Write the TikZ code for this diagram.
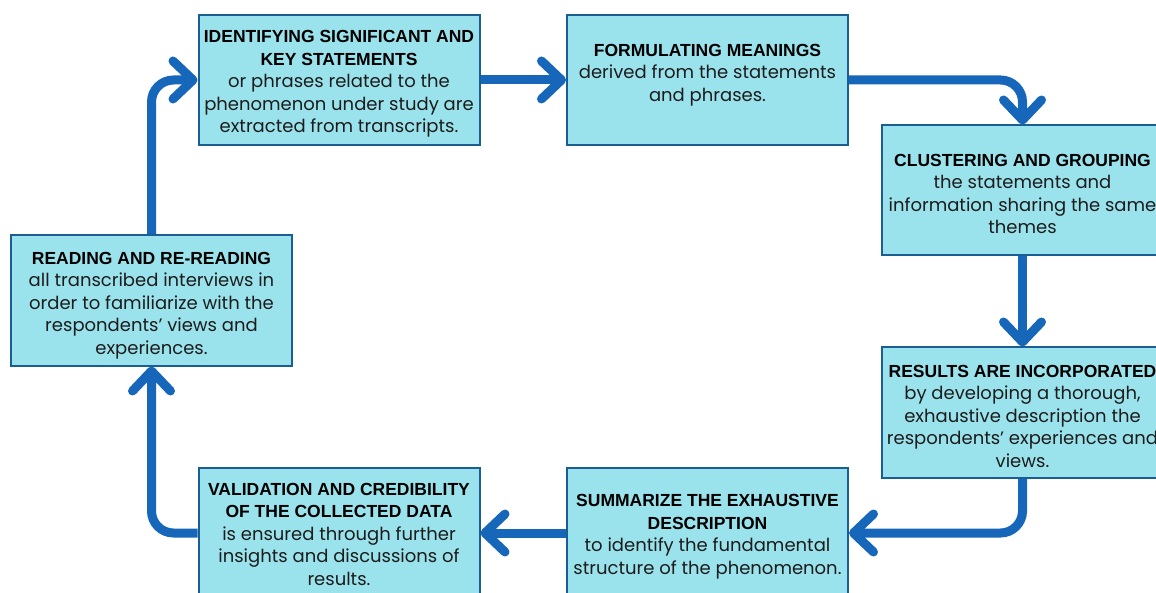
\documentclass[tikz,border=0pt]{standalone}
\usepackage{fontspec}
\setmainfont{Poppins}
\newfontfamily\titlefamily{Liberation Sans}
\usetikzlibrary{arrows.meta}
\definecolor{boxfill}{HTML}{9BE3EC}
\definecolor{boxline}{HTML}{1B5E93}
\definecolor{arrowblue}{HTML}{1666BA}
\definecolor{bodytext}{HTML}{1C1C1C}
\newcommand\ttl[1]{{\titlefamily\bfseries\fontsize{17.5}{22.5}\selectfont\color{black}#1}}
\tikzset{
  stepbox/.style={draw=boxline, line width=2pt, fill=boxfill, minimum width=281pt, minimum height=130pt, inner sep=0pt},
  txt/.style={align=center, text=bodytext, inner sep=0pt, font=\fontsize{18}{22.5}\selectfont},
  flow/.style={draw=arrowblue, line width=9pt, rounded corners=22pt,
    -{Straight Barb[length=20pt, width=38pt, round]}}
}
\begin{document}
\begin{tikzpicture}[x=1pt,y=-1pt]
\useasboundingbox (0,0) rectangle (1156,593);
\clip (0,0) rectangle (1156,593);
\fill[white] (0,0) rectangle (1156,593);
% boxes
\node[stepbox] (b1) at (339,80) {};
\node[stepbox] (b2) at (707.5,80) {};
\node[stepbox] (b3) at (1022.5,190.5) {};
\node[stepbox] (b4) at (1022.5,412.5) {};
\node[stepbox] (b5) at (707.5,533) {};
\node[stepbox] (b6) at (339,533) {};
\node[stepbox] (b7) at (151.5,300.5) {};
% texts
\node[txt] (t1) at ([yshift=-4pt]b1.center) {\ttl{IDENTIFYING SIGNIFICANT AND}\\\ttl{KEY STATEMENTS}\\or phrases related to the\\phenomenon under study are\\extracted from transcripts.};
\node[txt] (t2) at ([yshift=5pt]b2.center) {\ttl{FORMULATING MEANINGS}\\derived from the statements\\and phrases.};
\node[txt] (t3) at ([yshift=-3.5pt]b3.center) {\ttl{CLUSTERING AND GROUPING}\\the statements and\\information sharing the same\\themes};
\node[txt] (t4) at ([yshift=-3.5pt]b4.center) {\ttl{RESULTS ARE INCORPORATED}\\by developing a thorough,\\exhaustive description the\\respondents’ experiences and\\views.};
\node[txt] (t5) at ([yshift=-3.5pt]b5.center) {\ttl{SUMMARIZE THE EXHAUSTIVE}\\\ttl{DESCRIPTION}\\to identify the fundamental\\structure of the phenomenon.};
\node[txt] (t6) at ([yshift=-1pt]b6.center) {\ttl{VALIDATION AND CREDIBILITY}\\\ttl{OF THE COLLECTED DATA}\\is ensured through further\\insights and discussions of\\results.};
\node[txt] (t7) at ([yshift=-5pt]b7.center) {\ttl{READING AND RE-READING}\\all transcribed interviews in\\order to familiarize with the\\respondents’ views and\\experiences.};
% connectors
\draw[flow] (b7.north) |- (b1.west);
\draw[flow] (b1.east) -- (b2.west);
\draw[flow] (b2.east) -| (b3.north);
\draw[flow] (b3.south) -- (b4.north);
\draw[flow] (b4.south) |- (b5.east);
\draw[flow] (b5.west) -- (b6.east);
\draw[flow] (b6.west) -| (b7.south);
\end{tikzpicture}
\end{document}
